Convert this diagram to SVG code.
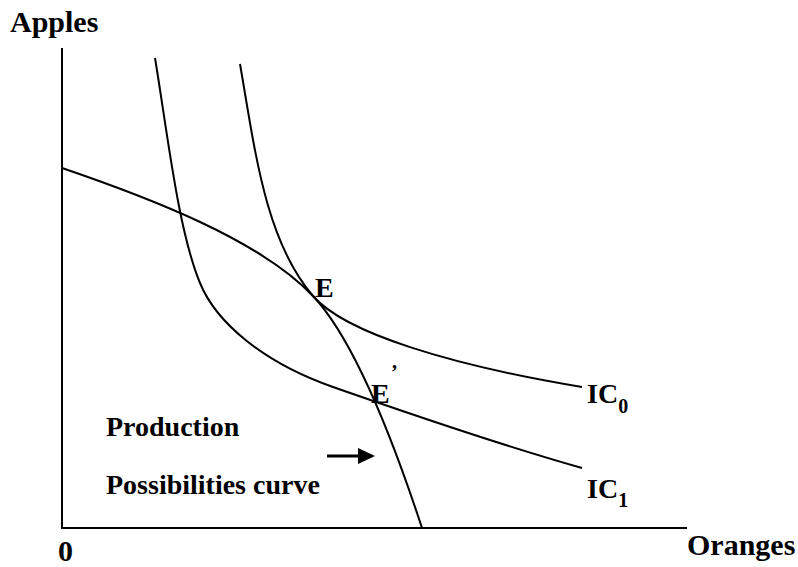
<svg xmlns="http://www.w3.org/2000/svg" width="798" height="567" viewBox="0 0 798 567">
<style>
.ax{stroke:#000;stroke-width:2;fill:none}
.cv{stroke:#000;stroke-width:2;fill:none}
text{font-family:'Liberation Serif','Times New Roman',Tinos,'DejaVu Serif',serif;font-weight:bold;fill:#000}
</style>
<rect width="798" height="567" fill="#fff"/>
<g id="axes">
<polyline class="ax" points="62,48 62,528 687,528"/>
</g>
<g id="connectors">
<path id="ppc" class="cv" d="M62,168 C150,198 260,240 313,296 C345,330 380,400 422,528"/>
<path id="ic0" class="cv" d="M240,64 C255,150 265,240 313,296 C345,333 450,365 582,387"/>
<path id="ic1" class="cv" d="M155,58 C167,130 178,230 200,283 C216,322 262,362 333,387 C393,408 500,445 582,468"/>
<line x1="327" y1="456" x2="362" y2="456" stroke="#000" stroke-width="3"/>
<polygon points="358,448 375,456 358,464" fill="#000"/>
</g>
<g id="label-apples"><text x="10" y="32" font-size="30" font-family="Liberation Serif, serif">Apples</text></g>
<g id="label-oranges"><text x="687" y="555" font-size="30" font-family="Liberation Serif, serif">Oranges</text></g>
<g id="label-zero"><text x="58" y="561" font-size="30" font-family="Liberation Serif, serif">0</text></g>
<g id="label-E"><text x="315" y="297" font-size="28" font-family="Liberation Serif, serif">E</text></g>
<g id="label-E2"><text x="371" y="403" font-size="28" font-family="Liberation Serif, serif">E</text><text x="391" y="379" font-size="20" font-family="Liberation Serif, serif">’</text></g>
<g id="label-IC0"><text x="587" y="403" font-size="28" font-family="Liberation Serif, serif">IC<tspan font-size="20" dy="10">0</tspan></text></g>
<g id="label-IC1"><text x="587" y="498" font-size="28" font-family="Liberation Serif, serif">IC<tspan font-size="20" dy="9">1</tspan></text></g>
<g id="label-ppc"><text x="106" y="436" font-size="28" font-family="Liberation Serif, serif">Production</text><text x="106" y="494" font-size="28" font-family="Liberation Serif, serif">Possibilities curve</text></g>
</svg>
